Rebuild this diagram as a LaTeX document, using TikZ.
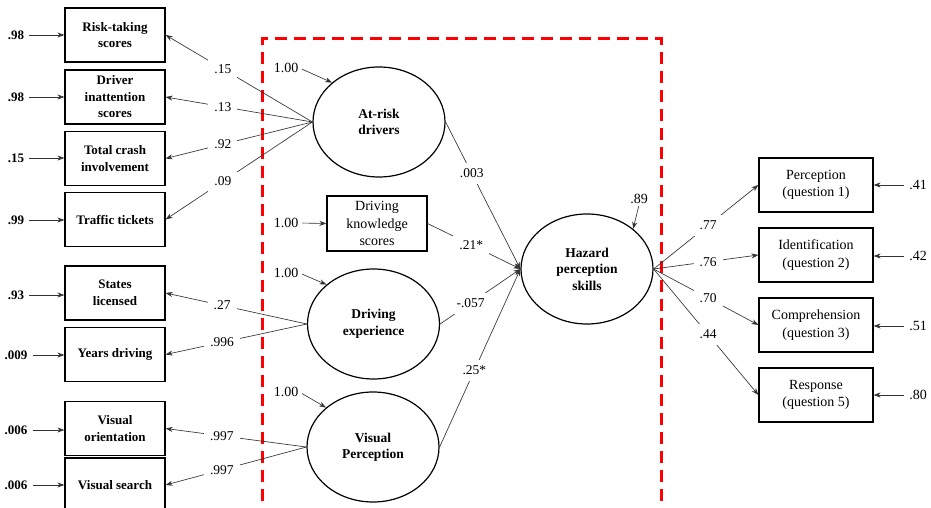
\documentclass[tikz,border=0pt]{standalone}
\usepackage{fontspec}
\setmainfont{Liberation Serif}
\usetikzlibrary{shapes.geometric,arrows.meta}
\begin{document}
\begin{tikzpicture}[x=1pt,y=-1pt,
  lbox/.style={draw, line width=1.2pt, minimum width=100pt, minimum height=54pt, inner sep=1pt, align=center, font=\fontsize{13}{16.5}\selectfont\bfseries},
  kbox/.style={draw, line width=1.2pt, minimum width=100pt, minimum height=55pt, inner sep=1pt, align=center, font=\fontsize{14}{17.5}\selectfont},
  rbox/.style={draw, line width=1.2pt, minimum width=114pt, minimum height=54pt, inner sep=1pt, align=center, font=\fontsize{14}{17.5}\selectfont},
  lat/.style={draw, ellipse, line width=1.2pt, minimum width=132pt, minimum height=110pt, inner sep=0pt, align=center, font=\fontsize{13.5}{16.5}\selectfont\bfseries},
  lbl/.style={fill=white, inner xsep=6pt, inner ysep=6pt, font=\fontsize{13.5}{15}\selectfont},
  errl/.style={font=\fontsize{13}{15}\selectfont\bfseries, inner sep=1pt},
  errr/.style={font=\fontsize{14}{15}\selectfont, inner sep=1pt},
  arr/.style={-{Stealth[length=7pt,width=5pt]}, line width=0.65pt, draw=black!80},
]
\useasboundingbox (0,0) rectangle (931,508);
\fill[white] (0,0) rectangle (931,508);

% red dashed frame
\begin{scope}
\clip (0,0) rectangle (931,508);
\draw[red, line width=3pt, dash pattern=on 12pt off 7pt] (262,520) -- (262,39) -- (661,39) -- (661,520);
\end{scope}

% left indicator boxes
\node[lbox] (rt) at (115,35) {Risk-taking\\scores};
\node[lbox] (di) at (115,97) {Driver\\inattention\\scores};
\node[lbox] (tc) at (115,158.5) {Total crash\\involvement};
\node[lbox] (tt) at (115,219.5) {Traffic tickets};
\node[lbox] (sl) at (115,293) {States\\licensed};
\node[lbox] (yd) at (115,354.5) {Years driving};
\node[lbox] (vo) at (115,428.5) {Visual\\orientation};
\node[lbox] (vs) at (115,485) {Visual search};

% left error terms
\node[errl] (e1) at (16,35) {.98};
\node[errl] (e2) at (16,97) {.98};
\node[errl] (e3) at (16,158) {.15};
\node[errl] (e4) at (16,220) {.99};
\node[errl] (e5) at (16,295) {.93};
\node[errl] (e6) at (16,355) {.009};
\node[errl] (e7) at (16,430) {.006};
\node[errl] (e8) at (16,485) {.006};
\foreach \e/\b in {e1/rt,e2/di,e3/tc,e4/tt,e5/sl,e6/yd,e7/vo,e8/vs}
  \draw[arr, shorten <=4pt] (\e.east) -- (\b.west |- \e.east);

% latent variables
\node[lat] (ar) at (379,122) {At-risk\\drivers};
\node[kbox] (kn) at (377,223.5) {Driving\\knowledge\\scores};
\node[lat] (ex) at (373.5,324) {Driving\\experience};
\node[lat] (vp) at (373,447) {Visual\\Perception};
\node[lat] (hz) at (587,269) {Hazard\\perception\\skills};

% variance labels
\node[errr] (v1) at (286,68) {1.00};
\node[errr] (v2) at (286,223) {1.00};
\node[errr] (v3) at (286,273) {1.00};
\node[errr] (v4) at (286,392) {1.00};
\node[errr] (v5) at (639,199) {.89};
\draw[arr, shorten <=3pt] (v1.east) -- (ar.140);
\draw[arr, shorten <=3pt] (v2.east) -- (kn.west);
\draw[arr, shorten <=3pt] (v3.east) -- (ex.140);
\draw[arr, shorten <=3pt] (v4.east) -- (vp.140);
\draw[arr, shorten <=1pt] (v5.south) -- (hz.41);

% loadings to left indicators
\draw[arr] (ar.west) -- node[lbl, pos=0.61] {.15} (rt.east);
\draw[arr] (ar.west) -- node[lbl, pos=0.61] {.13} (di.east);
\draw[arr] (ar.west) -- node[lbl, pos=0.61] {.92} (tc.east);
\draw[arr] (ar.west) -- node[lbl, pos=0.61] {.09} (tt.east);
\draw[arr] (ex.west) -- node[lbl, pos=0.6] {.27} (sl.east);
\draw[arr] (ex.west) -- node[lbl, pos=0.6] {.996} (yd.east);
\draw[arr] (vp.west) -- node[lbl, pos=0.6] {.997} (vo.east);
\draw[arr] (vp.west) -- node[lbl, pos=0.6] {.997} (vs.east);

% structural paths
\draw[arr] (ar.east) -- node[lbl, pos=0.35] {.003} (hz.west);
\draw[arr] (kn.east) -- node[lbl, pos=0.47] {.21*} (hz.west);
\draw[arr] (ex.east) -- node[lbl, pos=0.38] {-.057} (hz.west);
\draw[arr] (vp.east) -- node[lbl, pos=0.43] {.25*} (hz.west);

% right indicators
\node[rbox] (q1) at (816,185) {Perception\\(question 1)};
\node[rbox] (q2) at (816,255) {Identification\\(question 2)};
\node[rbox] (q3) at (816,325) {Comprehension\\(question 3)};
\node[rbox] (q4) at (816,395) {Response\\(question 5)};

\draw[arr] (hz.east) -- node[lbl, pos=0.52] {.77} (q1.west);
\draw[arr] (hz.east) -- node[lbl, pos=0.52] {.76} (q2.west);
\draw[arr] (hz.east) -- node[lbl, pos=0.52] {.70} (q3.west);
\draw[arr] (hz.east) -- node[lbl, pos=0.52] {.44} (q4.west);

\node[errr] (r1) at (918,185) {.41};
\node[errr] (r2) at (918,256) {.42};
\node[errr] (r3) at (918,326) {.51};
\node[errr] (r4) at (918,395) {.80};
\foreach \e/\b in {r1/q1,r2/q2,r3/q3,r4/q4}
  \draw[arr, shorten <=4pt] (\e.west) -- (\b.east |- \e.west);
\end{tikzpicture}
\end{document}
